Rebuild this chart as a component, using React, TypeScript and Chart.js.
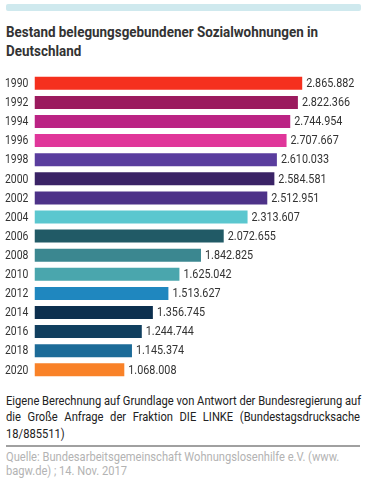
import React, { useEffect, useRef } from "react";
import { Chart, registerables } from "chart.js";

Chart.register(...registerables);

const years = ["1990", "1992", "1994", "1996", "1998", "2000", "2002", "2004", "2006", "2008", "2010", "2012", "2014", "2016", "2018", "2020"];
const units = [2865882, 2822366, 2744954, 2707667, 2610033, 2584581, 2512951, 2313607, 2072655, 1842825, 1625042, 1513627, 1356745, 1244744, 1145374, 1068008];
const barColors = [
  "#f5301e", "#9b1a5e", "#bb2384", "#e0369a", "#5a3d9e", "#3a2366", "#4d3288", "#5bc7cf",
  "#215a66", "#3b8790", "#4aa6ad", "#1f87bf", "#0c2f4e", "#103f5f", "#1c6b98", "#f98228",
];
const titleLines = ["Bestand belegungsgebundener Sozialwohnungen in", "Deutschland"];
const noteLines = [
  "Eigene Berechnung auf Grundlage von Antwort der Bundesregierung auf",
  "die Große Anfrage der Fraktion DIE LINKE (Bundestagsdrucksache",
  "18/885511)",
];
const sourceLines = [
  "Quelle: Bundesarbeitsgemeinschaft Wohnungslosenhilfe e.V. (www.",
  "bagw.de) ; 14. Nov. 2017",
];

const X_MIN = 160400;
const X_MAX = 3551000;
const FONT = "Roboto, sans-serif";

function fmt(n: number): string {
  return String(n).replace(/\B(?=(\d{3})+(?!\d))/g, ".");
}

const narrowText = {
  id: "narrowText",
  afterDraw(chart: any) {
    const ctx = chart.ctx;
    const meta = chart.getDatasetMeta(0);
    const yScale = chart.scales.y;
    ctx.save();
    ctx.font = `13px ${FONT}`;
    ctx.fillStyle = "#333333";
    ctx.textAlign = "left";
    ctx.textBaseline = "middle";
    // value labels
    meta.data.forEach((bar: any, i: number) => {
      ctx.save();
      ctx.translate(bar.x + 4, bar.y + 0.5);
      ctx.scale(0.83, 1);
      ctx.fillText(fmt(units[i]), 0, 0);
      ctx.restore();
    });
    // category (year) labels of the y axis
    yScale.ticks.forEach((t: any, i: number) => {
      const label = yScale.getLabelForValue(t.value);
      ctx.save();
      ctx.translate(5, yScale.getPixelForTick(i) + 0.5);
      ctx.scale(0.8, 1);
      ctx.fillText(label, 0, 0);
      ctx.restore();
    });
    ctx.restore();
  },
};

export default function App() {
  const ref = useRef<HTMLCanvasElement | null>(null);
  useEffect(() => {
    if (!ref.current) return;
    const chart = new Chart(ref.current, {
      type: "bar",
      data: {
        labels: years,
        datasets: [
          {
            data: units,
            backgroundColor: barColors,
            barPercentage: 0.68,
            categoryPercentage: 1,
            base: X_MIN,
          } as any,
        ],
      },
      options: {
        indexAxis: "y",
        responsive: false,
        animation: false,
        layout: { padding: { left: 5, right: 8, top: 3.75, bottom: 2.65 } },
        plugins: { legend: { display: false }, tooltip: { enabled: false } },
        scales: {
          x: { display: false, min: X_MIN, max: X_MAX },
          y: {
            grid: { display: false },
            border: { display: false },
            ticks: { display: false },
            afterFit: (s: any) => {
              s.width = 29.5;
            },
          },
        },
      } as any,
      plugins: [narrowText],
    });
    return () => chart.destroy();
  }, []);

  const titleScale = 0.925;
  const noteScale = 0.826;
  const srcScale = 0.856;

  return (
    <div style={{ position: "absolute", left: 0, top: 0, width: 378, height: 485, background: "#fff", fontFamily: FONT, overflow: "hidden" }}>
      <div style={{ position: "absolute", left: 6, top: 4, width: 355, height: 7, background: "#cfe9ee", borderRadius: 2 }} />
      <div
        style={{
          position: "absolute",
          left: 6,
          top: 22.5,
          fontSize: 14.5,
          lineHeight: "19.5px",
          fontWeight: 700,
          color: "#333",
          transform: `scaleX(${titleScale})`,
          transformOrigin: "0 0",
        }}
      >
        {titleLines.map((l, i) => (
          <div key={i} style={{ whiteSpace: "nowrap" }}>
            {l}
          </div>
        ))}
      </div>
      <canvas ref={ref} width={378} height={312} style={{ position: "absolute", left: 0, top: 70, width: 378, height: 312 }} />
      <div
        style={{
          position: "absolute",
          left: 6,
          top: 392.2,
          width: 354 / noteScale,
          fontSize: 13.5,
          lineHeight: "16.3px",
          color: "#222",
          transform: `scaleX(${noteScale})`,
          transformOrigin: "0 0",
        }}
      >
        {noteLines.map((l, i) => (
          <div
            key={i}
            style={{ textAlign: i < noteLines.length - 1 ? "justify" : "left", textAlignLast: i < noteLines.length - 1 ? "justify" : "left", whiteSpace: "nowrap" } as any}
          >
            {l}
          </div>
        ))}
      </div>
      <div style={{ position: "absolute", left: 6, top: 445, width: 354, height: 1.5, background: "#a0a0a0" }} />
      <div
        style={{
          position: "absolute",
          left: 6,
          top: 450.2,
          fontSize: 13,
          lineHeight: "13.5px",
          color: "#b3b3b3",
          transform: `scaleX(${srcScale})`,
          transformOrigin: "0 0",
        }}
      >
        {sourceLines.map((l, i) => (
          <div key={i} style={{ whiteSpace: "nowrap" }}>
            {l}
          </div>
        ))}
      </div>
    </div>
  );
}
